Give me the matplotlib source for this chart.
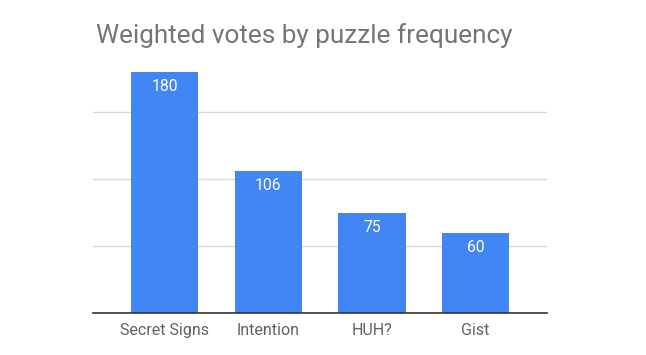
import matplotlib
matplotlib.use('Agg')
import matplotlib.pyplot as plt

# data
categories = ['Secret Signs', 'Intention', 'HUH?', 'Gist']
votes = [180, 106, 75, 60]

plt.rcParams['font.family'] = ['Roboto', 'DejaVu Sans']

fig = plt.figure(figsize=(6.46, 3.55), dpi=100)
ax = fig.add_axes([0.144, 0.1183, 0.703, 0.7533])

x = range(len(categories))
bars = ax.bar(x, votes, width=0.65, color='#4285F4', zorder=3)

# value labels inside bar tops
for b, v in zip(bars, votes):
    ax.annotate(str(v), (b.get_x() + b.get_width() / 2, v),
                xytext=(0, -7), textcoords='offset pixels',
                ha='center', va='top', color='white', fontsize=11.3)

ax.set_xlim(-0.69, 3.69)
ax.set_ylim(0, 200)
ax.set_yticks([50, 100, 150])
ax.yaxis.grid(True, color='#d9d9d9', linewidth=1, zorder=0)
ax.tick_params(axis='y', left=False, labelleft=False)
ax.set_xticks(list(x))
ax.set_xticklabels(categories, fontsize=11.5, color='#616161')
ax.tick_params(axis='x', length=0, pad=7)

for s in ['top', 'right', 'left']:
    ax.spines[s].set_visible(False)
ax.spines['bottom'].set_color('#333333')
ax.spines['bottom'].set_linewidth(1.2)
ax.spines['bottom'].set_zorder(4)

fig.text(96 / 646, 1 - 43 / 355, 'Weighted votes by puzzle frequency',
         fontsize=18.8, color='#757575', ha='left', va='baseline')

fig.savefig('out.png', dpi=100, facecolor='white')
